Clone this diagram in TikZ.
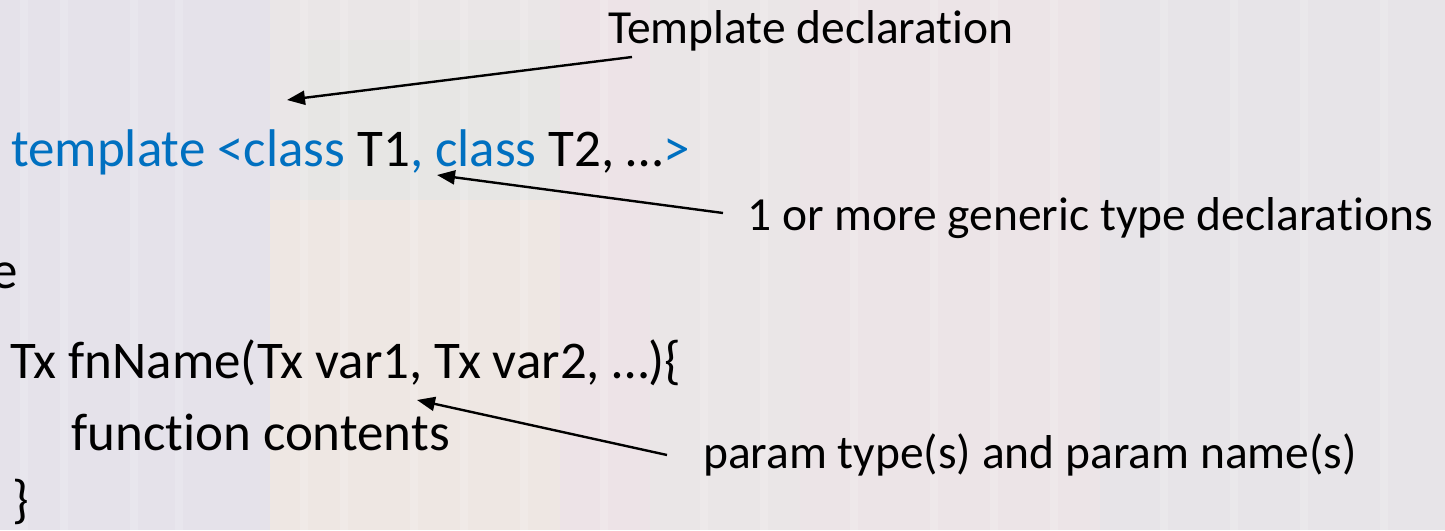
\documentclass[tikz,border=0pt]{standalone}
\usepackage{fontspec}
\setmainfont{Carlito}[Ligatures=NoCommon]
\usetikzlibrary{arrows.meta}
\definecolor{codeblue}{RGB}{0,112,192}
\definecolor{bgbase}{RGB}{234,230,231}
\definecolor{bglav}{RGB}{226,224,236}
\definecolor{bgpeach}{RGB}{242,232,224}
\definecolor{bgpink}{RGB}{240,226,231}
\definecolor{bggreen}{RGB}{228,231,224}
\begin{document}
\begin{tikzpicture}[x=1pt,y=-1pt,
  code/.style={inner sep=0pt,anchor=base west,font=\fontsize{53}{64}\selectfont},
  note/.style={inner sep=0pt,anchor=base west,font=\fontsize{47.5}{57}\selectfont},
  pointer/.style={line width=2.4pt,-{Triangle[length=18pt,width=14pt]}}]
\useasboundingbox (0,0) rectangle (1445,530);
\clip (0,0) rectangle (1445,530);
% background texture
\fill[bgbase] (0,0) rectangle (1445,530);
\fill[bglav,opacity=0.6] (0,0) rectangle (270,530);
\fill[bgpeach,opacity=0.5] (270,200) rectangle (560,530);
\fill[bggreen,opacity=0.4] (300,40) rectangle (560,200);
\fill[bgpink,opacity=0.5] (560,0) rectangle (650,530);
\fill[bgpink,opacity=0.35] (800,0) rectangle (1100,530);
\fill[bglav,opacity=0.3] (1100,0) rectangle (1445,530);
\foreach \xx in {20,60,130,175,300,340,410,460,520,600,700,760,850,930,990,1050,1160,1230,1300,1380}
  \fill[white,opacity=0.15] (\xx,0) rectangle ++(8,530);
% code lines
\node[code,text=codeblue] (l1) at (11,166) {template <class \textcolor{black}{T1}, class \textcolor{black}{T2, …}>};
\node[code] (l2) at (-9,288) {e};
\node[code] (l3) at (10,378) {Tx fnName(Tx var1, Tx var2, …)\{};
\node[code] (l4) at (71,450) {function contents};
\node[code] (l5) at (12,517) {\}};
% annotations
\node[note] (n1) at (608,43) {Template declaration};
\node[note] (n2) at (747,230) {1 or more generic type declarations};
\node[note] (n3) at (703,468) {param type(s) and param name(s)};
% arrow endpoints
\coordinate (s1) at (632,57);
\coordinate (t1) at (287,100);
\coordinate (s2) at (723,213);
\coordinate (t2) at (437,175);
\coordinate (s3) at (667,455);
\coordinate (t3) at (417,400);
\draw[pointer] (s1) -- (t1);
\draw[pointer] (s2) -- (t2);
\draw[pointer] (s3) -- (t3);
\end{tikzpicture}
\end{document}
